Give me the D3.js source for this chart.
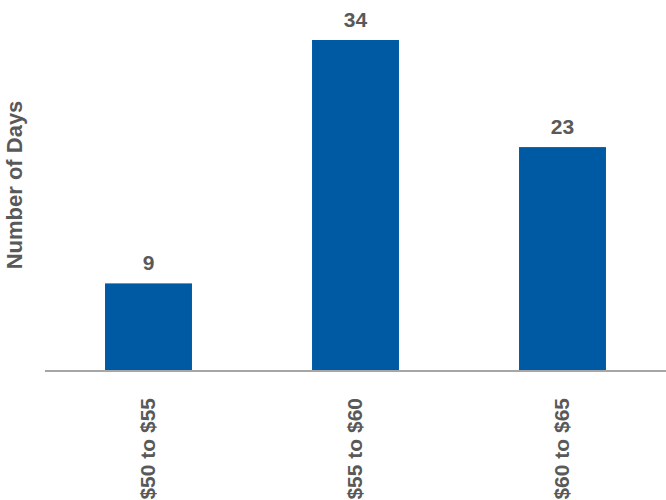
<!DOCTYPE html>
<html lang="en">
<head>
    <meta charset="UTF-8">
    <title>Number of Days by Price Range</title>
    <script src="https://cdnjs.cloudflare.com/ajax/libs/d3/7.8.5/d3.min.js"></script>
    <style>
        body { margin: 0; background: #fff; }
        svg { display: block; font-family: "Liberation Sans", Arial, sans-serif; }
        .bar { fill: #0059a3; }
        .value { fill: #595959; font-size: 21px; font-weight: bold; text-anchor: middle; }
        .tick-label { fill: #595959; font-size: 21px; font-weight: bold; }
        .y-title { fill: #595959; font-size: 22px; font-weight: bold; text-anchor: middle; }
        .axis-line { stroke: #a6a6a6; stroke-width: 2px; }
    </style>
</head>
<body>
    <svg id="chart"></svg>
    <script>
        const categories = ["$50 to $55", "$55 to $60", "$60 to $65"];
        const days = [9, 34, 23];

        const width = 666, height = 500;
        const svg = d3.select("#chart").attr("width", width).attr("height", height);

        const x = d3.scaleBand()
            .domain(categories)
            .range([45, 666])
            .paddingInner(0.58)
            .paddingOuter(0.29);

        const y = d3.scaleLinear()
            .domain([0, d3.max(days)])
            .range([371, 40]);

        // bars
        svg.selectAll(".bar")
            .data(categories)
            .enter()
            .append("rect")
            .attr("class", "bar")
            .attr("x", d => x(d))
            .attr("width", x.bandwidth())
            .attr("y", (d, i) => y(days[i]))
            .attr("height", (d, i) => y(0) - y(days[i]));

        // value labels
        svg.selectAll(".value")
            .data(categories)
            .enter()
            .append("text")
            .attr("class", "value")
            .attr("x", d => x(d) + x.bandwidth() / 2)
            .attr("y", (d, i) => y(days[i]) - 13)
            .text((d, i) => days[i]);

        // baseline
        svg.append("line")
            .attr("class", "axis-line")
            .attr("x1", 45).attr("x2", width)
            .attr("y1", y(0)).attr("y2", y(0));

        // rotated category labels
        svg.selectAll(".tick-label")
            .data(categories)
            .enter()
            .append("text")
            .attr("class", "tick-label")
            .attr("text-anchor", "end")
            .attr("transform", d => `translate(${x(d) + x.bandwidth() / 2 + 6},398) rotate(-90)`)
            .text(d => d);

        // y axis title
        svg.append("text")
            .attr("class", "y-title")
            .attr("transform", "translate(22,185) rotate(-90)")
            .text("Number of Days");
    </script>
</body>
</html>
